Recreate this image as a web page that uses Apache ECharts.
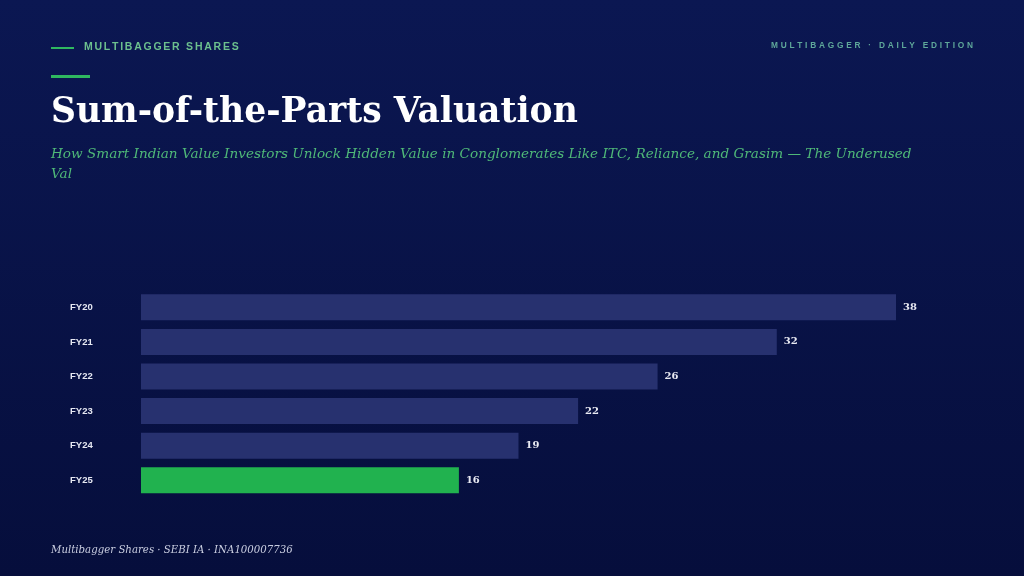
<!DOCTYPE html>
<html><head><meta charset="utf-8">
<script src="https://cdn.jsdelivr.net/npm/echarts@6/dist/echarts.min.js"></script>
<style>html,body{margin:0;padding:0;background:#08124a;}#c{width:1024px;height:576px;}</style>
</head><body><div id="c"></div>
<script>
const categories = ['FY20','FY21','FY22','FY23','FY24','FY25'];
const values = [38, 32, 26, 22, 19, 16];
const highlightIndex = 5;

const kicker = 'MULTIBAGGER SHARES';
const edition = 'MULTIBAGGER · DAILY EDITION';
const titleText = 'Sum-of-the-Parts Valuation';
const subtitleText = 'How Smart Indian Value Investors Unlock Hidden Value in Conglomerates Like ITC, Reliance, and Grasim — The Underused\nVal';
const footerText = 'Multibagger Shares · SEBI IA · INA100007736';

function spaced(s, n){ return s.split('').join('\u200A'.repeat(n)); }

const serif = "Georgia, 'DejaVu Serif', 'Liberation Serif', serif";
const sans = "'Liberation Sans', Arial, Helvetica, sans-serif";

const chart = echarts.init(document.getElementById('c'));
chart.setOption({
  backgroundColor: {type:'linear', x:0, y:0, x2:0, y2:1, colorStops:[{offset:0,color:'#0b1752'},{offset:1,color:'#060e3c'}]},
  animation: false,
  grid: {left:141, right:128, top:290, height:207.6, containLabel:false},
  xAxis: {type:'value', min:0, max:38, show:false},
  yAxis: {type:'category', data:categories, inverse:true,
    axisLine:{show:false}, axisTick:{show:false}, splitLine:{show:false},
    axisLabel:{color:'#e6e8f2', fontFamily:sans, fontWeight:'bold', fontSize:9.5, align:'left', margin:71}},
  series: [{type:'bar', barWidth:26,
    data: values.map((v,i)=>({value:v, itemStyle:{color: i===highlightIndex ? '#21b24f' : '#27316f'}})),
    label:{show:true, position:'right', distance:7, color:'#e8e9f2', fontFamily:serif, fontWeight:'bold', fontSize:10}
  }],
  graphic: [
    {type:'rect', shape:{x:51, y:47, width:23, height:2}, style:{fill:'#2fb860'}},
    {type:'text', left:84, top:41.5, style:{text:spaced(kicker,2), fill:'#6cc08e', font:"bold 10.5px "+sans}},
    {type:'rect', shape:{x:51, y:75, width:39, height:3}, style:{fill:'#2fb860'}},
    {type:'text', right:51, top:42, style:{text:spaced(edition,4), fill:'#5fa89a', font:"bold 8.3px "+sans}},
    {type:'text', left:51, top:96, style:{text:titleText, fill:'#ffffff', font:"bold 34.6px "+serif}},
    {type:'text', left:51, top:144, style:{text:subtitleText, fill:'#4fb878', font:"italic 13.6px "+serif, lineHeight:20}},
    {type:'text', left:51, top:545, style:{text:footerText, fill:'#c9cde0', font:"italic 10.2px "+serif}}
  ]
});
</script></body></html>
